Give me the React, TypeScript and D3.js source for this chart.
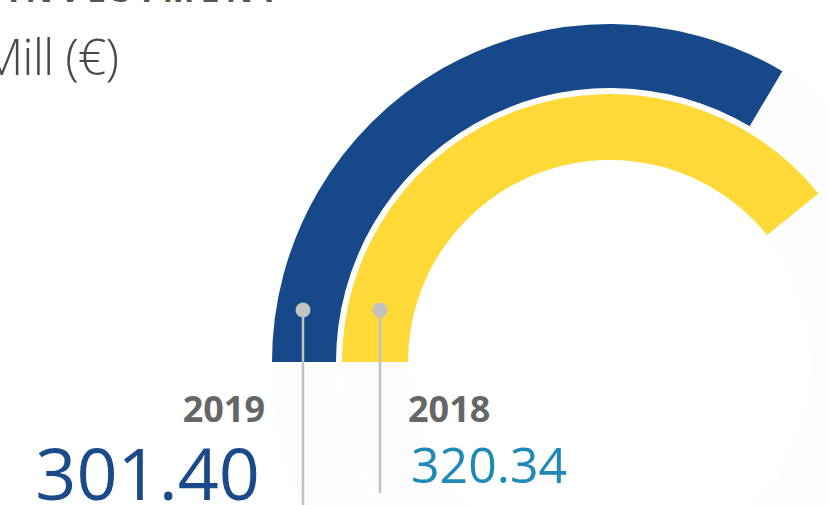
import React from "react";
import * as d3 from "d3";

const years = ["2019", "2018"];
const values = [301.4, 320.34];
const valueLabels = ["301.40", "320.34"];
const unitLabel = "Mill (€)";
const titleLabel = "INVESTMENT";

const W = 828;
const H = 505;
const cx = 610;
const cy = 362;
const rings = [
  { inner: 274, outer: 338 },
  { inner: 202, outer: 268 },
];
const colors = ["#17488a", "#ffd938"];
const numColors = ["#1b4a8a", "#1e89b6"];

export default function App() {
  const angle = d3.scaleLinear().domain([189.4, 356.5]).range([0, Math.PI]);
  const start = -Math.PI / 2;
  const arcGen = d3.arc<any>();
  const font = "'Open Sans', 'Liberation Sans', sans-serif";
  return (
    <div style={{ position: "fixed", left: 0, top: 0, width: W, height: H, background: "#fff" }}>
      <svg width={W} height={H} style={{ display: "block" }}>
        <text x={8} y={1.5} fontFamily={font} fontWeight={700} fontSize={34} fill="#555" letterSpacing={6}>
          {titleLabel}
        </text>
        <text x={118} y={75} textAnchor="end" fontFamily={font} fontWeight={300} fontSize={50} fill="#4a4a4a" letterSpacing={-1}>
          {unitLabel}
        </text>
        <g transform={`translate(${cx},${cy})`}>
          {rings.map((r, i) => (
            <path
              key={"t" + i}
              d={arcGen({ innerRadius: r.inner, outerRadius: r.outer, startAngle: 0, endAngle: 2 * Math.PI }) || ""}
              fill="#fcfcfc"
            />
          ))}
          {values.map((v, i) => (
            <path
              key={"a" + i}
              d={
                arcGen({
                  innerRadius: rings[i].inner,
                  outerRadius: rings[i].outer,
                  startAngle: start,
                  endAngle: start + angle(v),
                }) || ""
              }
              fill={colors[i]}
            />
          ))}
        </g>
        {/* leaders */}
        <line x1={303} y1={310} x2={303} y2={505} stroke="#c2c2c2" strokeWidth={2.5} />
        <circle cx={303} cy={310} r={7.5} fill="#c2c2c2" />
        <line x1={380} y1={310} x2={380} y2={493} stroke="#c2c2c2" strokeWidth={2.5} />
        <circle cx={380} cy={310} r={7.5} fill="#c2c2c2" />
        {/* labels */}
        <text x={265} y={422} textAnchor="end" fontFamily={font} fontWeight={700} fontSize={36} fill="#666">
          {years[0]}
        </text>
        <text x={260} y={500} textAnchor="end" fontFamily={font} fontWeight={400} fontSize={72} fill={numColors[0]}>
          {valueLabels[0]}
        </text>
        <text x={408} y={422} fontFamily={font} fontWeight={700} fontSize={36} fill="#666">
          {years[1]}
        </text>
        <text x={411} y={483} fontFamily={font} fontWeight={400} fontSize={50} fill={numColors[1]}>
          {valueLabels[1]}
        </text>
      </svg>
    </div>
  );
}
